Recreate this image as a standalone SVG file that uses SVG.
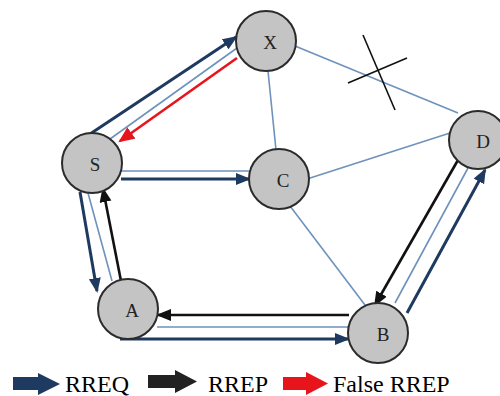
<svg xmlns="http://www.w3.org/2000/svg" width="500" height="396" viewBox="0 0 500 396">
<defs>
<style>
.edge{stroke:#6e92bb;stroke-width:1.6;fill:none}
.rreq{stroke:#1f3a60;stroke-width:3;fill:none;marker-end:url(#mReq)}
.rrep{stroke:#111;stroke-width:2.6;fill:none;marker-end:url(#mRep)}
.frep{stroke:#e8141b;stroke-width:2.6;fill:none;marker-end:url(#mFalse)}
.node{fill:#c4c4c4;stroke:#2b2b2b;stroke-width:2}
.lbl{font-family:"Liberation Serif","Times New Roman",serif;font-size:19px;fill:#222;text-anchor:middle}
.leg{font-family:"Liberation Serif","Times New Roman",serif;font-size:24px;fill:#000}
</style>
<marker id="mReq" markerUnits="userSpaceOnUse" markerWidth="16" markerHeight="14" refX="13" refY="6" orient="auto"><path d="M0,0 L15,6 L0,12 Z" fill="#1f3a60"/></marker>
<marker id="mRep" markerUnits="userSpaceOnUse" markerWidth="16" markerHeight="14" refX="13" refY="6" orient="auto"><path d="M0,0 L15,6 L0,12 Z" fill="#111"/></marker>
<marker id="mFalse" markerUnits="userSpaceOnUse" markerWidth="18" markerHeight="16" refX="14" refY="7" orient="auto"><path d="M0,0 L16,7 L0,14 Z" fill="#e8141b"/></marker>
</defs>
<rect width="500" height="396" fill="#fff"/>
<g id="connectors">
<line class="edge" x1="268" y1="71" x2="276" y2="150"/>
<line class="edge" x1="295" y1="46" x2="458" y2="113"/>
<line class="edge" x1="307" y1="179" x2="450" y2="133"/>
<line class="edge" x1="290" y1="206" x2="365" y2="305"/>
<line class="edge" x1="110" y1="139" x2="237" y2="48"/>
<line class="edge" x1="121" y1="171" x2="249" y2="171"/>
<line class="edge" x1="88" y1="193" x2="112" y2="281"/>
<line class="edge" x1="157" y1="327" x2="349" y2="327"/>
<line class="edge" x1="468" y1="168" x2="395" y2="303"/>
<line class="rreq" x1="90" y1="134" x2="236" y2="37"/>
<line class="rreq" x1="121" y1="179" x2="249" y2="179"/>
<line class="rreq" x1="80" y1="192" x2="97" y2="291"/>
<line class="rreq" x1="120" y1="339" x2="348" y2="339"/>
<line class="rreq" x1="407" y1="313" x2="485" y2="170"/>
<line class="rrep" x1="121" y1="281" x2="103" y2="189"/>
<line class="rrep" x1="349" y1="315" x2="158" y2="315"/>
<line class="rrep" x1="458" y1="160" x2="375" y2="305"/>
<line class="frep" x1="237" y1="58" x2="120" y2="141"/>
<line x1="363" y1="35" x2="395" y2="110" stroke="#111" stroke-width="1.6"/>
<line x1="348" y1="83" x2="407" y2="58" stroke="#111" stroke-width="1.6"/>
</g>
<g id="node-X"><circle class="node" cx="266" cy="41" r="30"/><text class="lbl" x="270" y="49">X</text></g>
<g id="node-S"><circle class="node" cx="92" cy="163" r="30"/><text class="lbl" x="95" y="171">S</text></g>
<g id="node-C"><circle class="node" cx="279" cy="179" r="30"/><text class="lbl" x="283" y="187">C</text></g>
<g id="node-D"><circle class="node" cx="478" cy="140" r="29"/><text class="lbl" x="483" y="148">D</text></g>
<g id="node-A"><circle class="node" cx="128" cy="309" r="30"/><text class="lbl" x="132" y="317">A</text></g>
<g id="node-B"><circle class="node" cx="378" cy="333" r="30"/><text class="lbl" x="383" y="341">B</text></g>
<g id="legend">
<polygon points="13,377 38,377 38,373 60,384 38,395 38,390 13,390" fill="#1f3a60"/>
<text class="leg" x="65" y="392">RREQ</text>
<polygon points="148,375 175,375 175,370 197,381.5 175,393 175,388 148,388" fill="#222"/>
<text class="leg" x="208" y="392">RREP</text>
<polygon points="283,377 306,377 306,372 328,383.5 306,395 306,390 283,390" fill="#e8141b"/>
<text class="leg" x="333" y="392">False RREP</text>
</g>
</svg>
